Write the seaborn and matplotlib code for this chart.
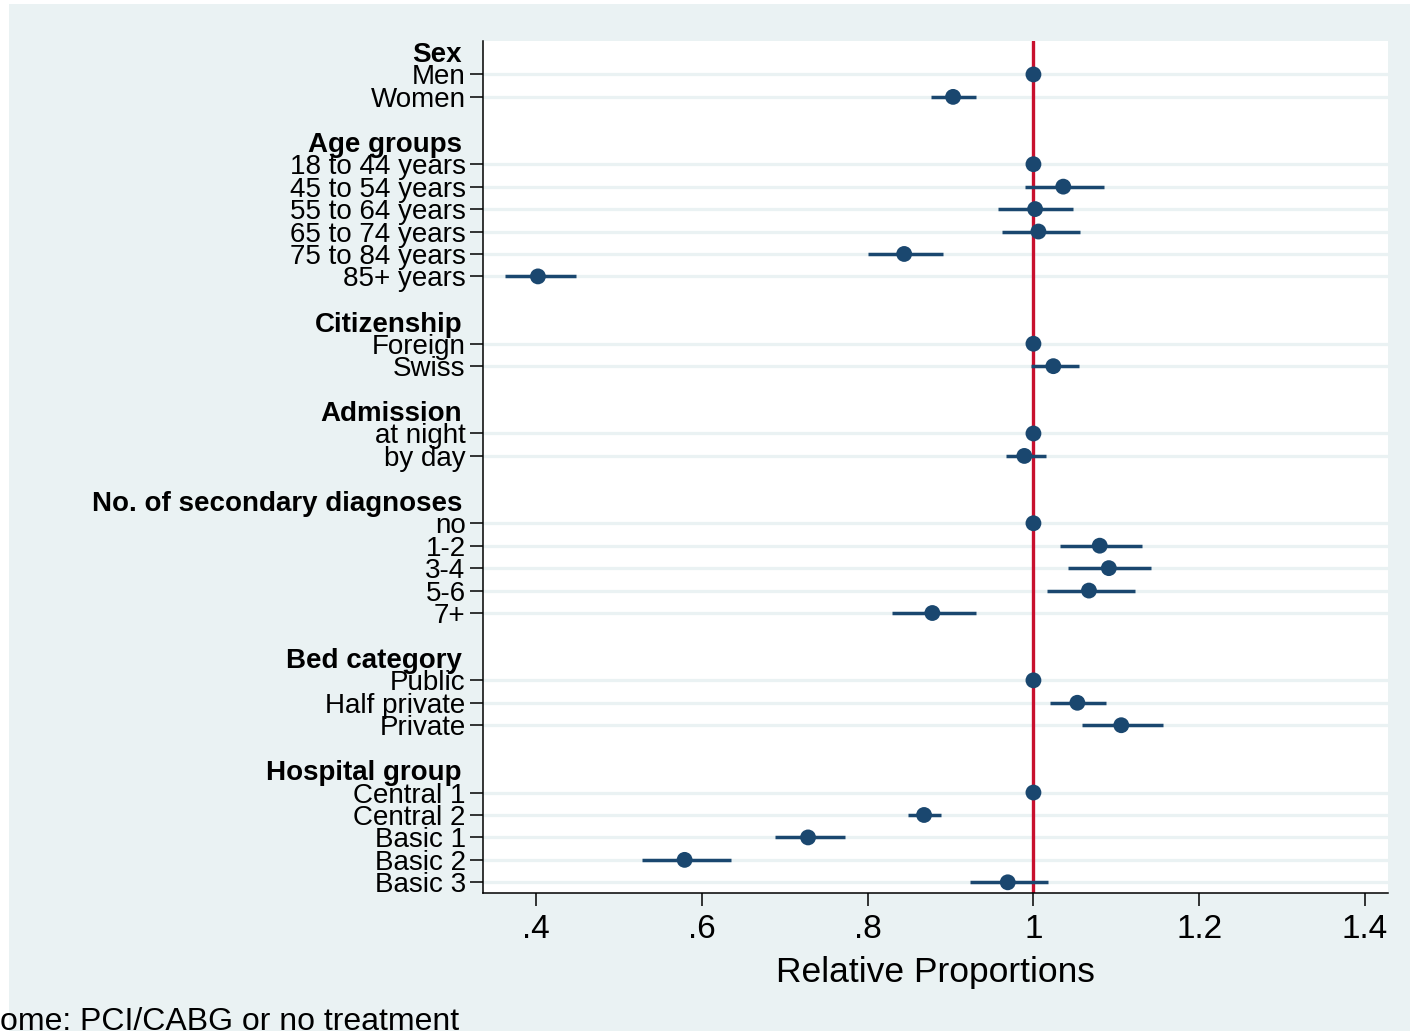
import numpy as np
import pandas as pd
import matplotlib
matplotlib.use("Agg")
import matplotlib.pyplot as plt
from matplotlib.patches import Rectangle
import seaborn as sns

# ---------------- data ----------------
group_names = ["Sex", "Age groups", "Citizenship", "Admission",
               "No. of secondary diagnoses", "Bed category", "Hospital group"]

sex_levels = ["Men", "Women"]
sex_est = [1.0, 0.903]
sex_lo = [np.nan, 0.876]
sex_hi = [np.nan, 0.931]

age_levels = ["18 to 44 years", "45 to 54 years", "55 to 64 years",
              "65 to 74 years", "75 to 84 years", "85+ years"]
age_est = [1.0, 1.036, 1.002, 1.006, 0.844, 0.402]
age_lo = [np.nan, 0.990, 0.957, 0.962, 0.800, 0.362]
age_hi = [np.nan, 1.085, 1.048, 1.056, 0.891, 0.448]

cit_levels = ["Foreign", "Swiss"]
cit_est = [1.0, 1.024]
cit_lo = [np.nan, 0.997]
cit_hi = [np.nan, 1.055]

adm_levels = ["at night", "by day"]
adm_est = [1.0, 0.989]
adm_lo = [np.nan, 0.967]
adm_hi = [np.nan, 1.015]

diag_levels = ["no", "1-2", "3-4", "5-6", "7+"]
diag_est = [1.0, 1.080, 1.091, 1.067, 0.878]
diag_lo = [np.nan, 1.032, 1.042, 1.016, 0.829]
diag_hi = [np.nan, 1.131, 1.142, 1.122, 0.931]

bed_levels = ["Public", "Half private", "Private"]
bed_est = [1.0, 1.053, 1.106]
bed_lo = [np.nan, 1.020, 1.059]
bed_hi = [np.nan, 1.087, 1.156]

hosp_levels = ["Central 1", "Central 2", "Basic 1", "Basic 2", "Basic 3"]
hosp_est = [1.0, 0.868, 0.728, 0.579, 0.969]
hosp_lo = [np.nan, 0.849, 0.688, 0.527, 0.924]
hosp_hi = [np.nan, 0.889, 0.772, 0.635, 1.017]

x_ticks = [0.4, 0.6, 0.8, 1.0, 1.2, 1.4]
x_tick_labels = [".4", ".6", ".8", "1", "1.2", "1.4"]
x_title = "Relative Proportions"
caption = "ome: PCI/CABG or no treatment"
reference_value = 1.0

# ---------------- assemble rows ----------------
blocks = [
    (sex_levels, sex_est, sex_lo, sex_hi),
    (age_levels, age_est, age_lo, age_hi),
    (cit_levels, cit_est, cit_lo, cit_hi),
    (adm_levels, adm_est, adm_lo, adm_hi),
    (diag_levels, diag_est, diag_lo, diag_hi),
    (bed_levels, bed_est, bed_lo, bed_hi),
    (hosp_levels, hosp_est, hosp_lo, hosp_hi),
]
records = []
header_rows = []
pos = 0
for gname, (lv, es, lo, hi) in zip(group_names, blocks):
    header_rows.append((gname, pos))
    pos += 1
    for l, e, a, b in zip(lv, es, lo, hi):
        records.append(dict(label=l, group=gname, row=pos, est=e, lo=a, hi=b))
        pos += 1
    pos += 1  # blank spacer
df = pd.DataFrame(records)
last_row = df["row"].max()

# ---------------- style ----------------
bg = "#EAF2F3"
navy = "#1A476F"
red = "#C8102E"
sns.set_style("white")
plt.rcParams["font.family"] = ["Liberation Sans", "DejaVu Sans"]
plt.rcParams["text.color"] = "black"
plt.rcParams["axes.labelcolor"] = "black"
plt.rcParams["xtick.color"] = "black"
plt.rcParams["ytick.color"] = "black"

W, H = 1410, 1031
fig = plt.figure(figsize=(W / 100, H / 100), dpi=100, facecolor="white")
fig.patches.append(Rectangle((9 / W, 0), 1 - 9 / W, 1 - 4 / H,
                             transform=fig.transFigure, facecolor=bg,
                             edgecolor="none", zorder=-10))
ax = fig.add_axes([483 / W, 1 - 893.3 / H, (1388 - 483) / W, (893.3 - 41) / H])
ax.set_facecolor("white")

# grid lines at each level row
for r in df["row"]:
    ax.axhline(r, color=bg, lw=2.3, zorder=1)

# reference line
ax.axvline(reference_value, color=red, lw=2.4, zorder=2)

# confidence intervals
ci = df.dropna(subset=["lo", "hi"])
ax.hlines(ci["row"], ci["lo"], ci["hi"], color=navy, lw=2.5, zorder=3)

# point estimates
sns.scatterplot(data=df, x="est", y="row", ax=ax, color=navy, s=130,
                edgecolor="none", linewidth=0, zorder=4, legend=False)

ax.set_xlim(0.3357, 1.4279)
ax.set_ylim(last_row + 0.49, -0.49)

ax.set_yticks(df["row"])
ax.set_yticklabels(df["label"], fontsize=20)
ax.set_xticks(x_ticks)
ax.set_xticklabels(x_tick_labels, fontsize=24)
ax.tick_params(axis="y", direction="out", length=9.5, width=1.1, pad=3,
               color="black", left=True)
ax.tick_params(axis="x", direction="out", length=9, width=1.1, pad=6,
               color="black", bottom=True)

for s in ["top", "right"]:
    ax.spines[s].set_visible(False)
for s in ["left", "bottom"]:
    ax.spines[s].set_visible(True)
    ax.spines[s].set_color("black")
    ax.spines[s].set_linewidth(1.1)

ax.set_ylabel("")
ax.set_xlabel(x_title, fontsize=25.5)
ax.xaxis.set_label_coords(0.5, -0.073)

# group headers
tr = ax.get_yaxis_transform()
for gname, r in header_rows:
    ax.text(-(483 - 462) / (1388 - 483), r + 0.15, gname, transform=tr,
            ha="right", va="center", fontsize=20, fontweight="bold",
            clip_on=False)

fig.text(0, 1 - 1030 / H, caption, ha="left", va="baseline", fontsize=23)

fig.savefig("out.png", dpi=100, facecolor="white")
